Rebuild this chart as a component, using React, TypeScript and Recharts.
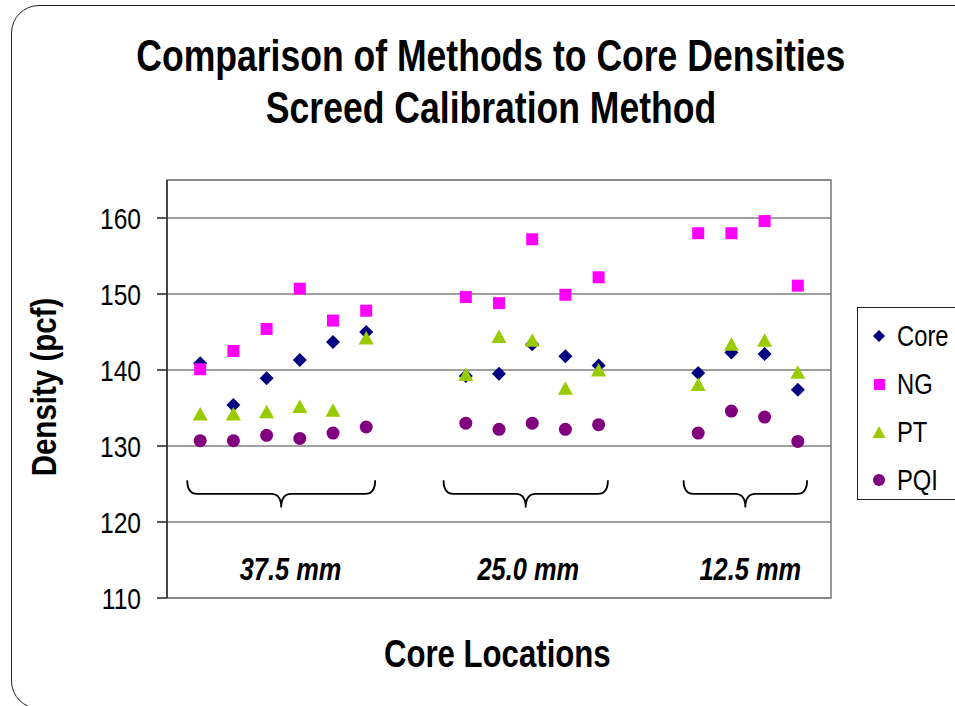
import React from 'react';
import { ScatterChart, Scatter, XAxis, YAxis, CartesianGrid, ReferenceArea, ReferenceDot } from 'recharts';

const F = '"Liberation Sans", Arial, sans-serif';
const NARROW = 0.82;

// Core position index along the horizontal axis
const corePositions = [1, 2, 3, 4, 5, 6, 9, 10, 11, 12, 13, 16, 17, 18, 19];
const coreValues = [140.9, 135.4, 138.9, 141.3, 143.7, 145.0, 139.2, 139.5, 143.4, 141.8, 140.6, 139.6, 142.3, 142.1, 137.4];
const ngValues = [140.1, 142.5, 145.4, 150.7, 146.5, 147.8, 149.6, 148.8, 157.2, 149.9, 152.2, 158.0, 158.0, 159.6, 151.1];
const ptValues = [134.2, 134.2, 134.5, 135.2, 134.7, 144.2, 139.4, 144.4, 143.9, 137.6, 140.0, 138.1, 143.4, 143.9, 139.7];
const pqiValues = [130.7, 130.7, 131.4, 131.0, 131.7, 132.5, 133.0, 132.2, 133.0, 132.2, 132.8, 131.7, 134.6, 133.8, 130.6];

const yTicks = [110, 120, 130, 140, 150, 160];

// Group annotations (brace extents and label anchor in data units)
const groupLabels = ['37.5 mm', '25.0 mm', '12.5 mm'];
const braceStart = [0.61, 8.33, 15.56];
const braceEnd = [6.27, 13.28, 19.28];
const labelCenter = [3.72, 10.88, 17.57];

const toRows = (vals: number[]) => vals.map((v, i) => ({ x: corePositions[i], y: v }));
const coreData = toRows(coreValues);
const ngData = toRows(ngValues);
const ptData = toRows(ptValues);
const pqiData = toRows(pqiValues);

const COLORS = { core: '#000080', ng: '#FF00FF', pt: '#99CC00', pqi: '#800080' };

const NText = ({ x, y, anchor = 'start', size, bold = false, italic = false, rotate = 0, children }: any) => (
  <text
    transform={`translate(${x} ${y})${rotate ? ` rotate(${rotate})` : ''} scale(${NARROW} 1)`}
    textAnchor={anchor}
    fontSize={size}
    fontWeight={bold ? 'bold' : 'normal'}
    fontStyle={italic ? 'italic' : 'normal'}
    fontFamily={F}
    fill="#000"
  >
    {children}
  </text>
);

const Diamond = (p: any) => (
  <path d={`M${p.cx},${p.cy - 7}L${p.cx + 7},${p.cy}L${p.cx},${p.cy + 7}L${p.cx - 7},${p.cy}Z`} fill={COLORS.core} />
);
const Square = (p: any) => <rect x={p.cx - 6} y={p.cy - 6} width={12} height={12} fill={COLORS.ng} />;
const Tri = (p: any) => (
  <path d={`M${p.cx},${p.cy - 7}L${p.cx + 7.5},${p.cy + 6.5}L${p.cx - 7.5},${p.cy + 6.5}Z`} fill={COLORS.pt} />
);
const Dot = (p: any) => <circle cx={p.cx} cy={p.cy} r={6.5} fill={COLORS.pqi} />;

const Brace = (p: any) => {
  const x0 = p.x, x1 = p.x + p.width, y0 = p.y, yb = p.y + p.height, ym = p.y + p.height / 2;
  const cx = (x0 + x1) / 2, r = 10;
  const d = `M${x0},${y0} Q${x0},${ym} ${x0 + r},${ym} L${cx - r},${ym} Q${cx},${ym} ${cx},${yb} Q${cx},${ym} ${cx + r},${ym} L${x1 - r},${ym} Q${x1},${ym} ${x1},${y0}`;
  return <path d={d} fill="none" stroke="#000" strokeWidth={1.8} />;
};

const YTick = (p: any) => (
  <NText x={p.x} y={p.y + 10.5} anchor="end" size={30}>
    {p.payload.value}
  </NText>
);

const legendItems = [
  { name: 'Core', shape: 'diamond', color: COLORS.core },
  { name: 'NG', shape: 'square', color: COLORS.ng },
  { name: 'PT', shape: 'triangle', color: COLORS.pt },
  { name: 'PQI', shape: 'circle', color: COLORS.pqi },
];

const LegendIcon = ({ shape, color }: { shape: string; color: string }) => (
  <svg width={16} height={16} style={{ display: 'block' }}>
    {shape === 'diamond' && <path d="M8,2L14,8L8,14L2,8Z" fill={color} />}
    {shape === 'square' && <rect x={3} y={3} width={11} height={11} fill={color} />}
    {shape === 'triangle' && <path d="M8,2L14.5,14L1.5,14Z" fill={color} />}
    {shape === 'circle' && <circle cx={8} cy={8} r={6} fill={color} />}
  </svg>
);

const narrowSpan: React.CSSProperties = { display: 'inline-block', transform: `scaleX(${NARROW})`, whiteSpace: 'nowrap' };
const titleSpan: React.CSSProperties = { display: 'inline-block', transform: 'scaleX(0.79)', whiteSpace: 'nowrap' };

export default function App() {
  return (
    <div style={{ position: 'absolute', left: 0, top: 0, width: 955, height: 706, overflow: 'hidden', background: '#fff', fontFamily: F }}>
      <div style={{ position: 'absolute', left: 11, top: 5, width: 1000, height: 702, border: '1.6px solid #222', borderRadius: 28 }} />
      <div style={{ position: 'absolute', left: 0, top: 30, width: 982, textAlign: 'center', fontSize: 45, fontWeight: 'bold', lineHeight: '52px', color: '#000' }}>
        <div><span style={titleSpan}>Comparison of Methods to Core Densities</span></div>
        <div><span style={titleSpan}>Screed Calibration Method</span></div>
      </div>
      <div style={{ position: 'absolute', left: 0, top: 0 }}>
        <ScatterChart width={955} height={706} margin={{ top: 180, right: 124, bottom: 108, left: 87 }}>
          <CartesianGrid horizontal vertical={false} stroke="#808080" strokeWidth={1.6} />
          <XAxis type="number" dataKey="x" domain={[0, 20]} hide />
          <YAxis
            type="number"
            dataKey="y"
            domain={[110, 165]}
            ticks={yTicks}
            width={80}
            tickSize={10}
            tickMargin={16}
            interval={0}
            axisLine={{ stroke: '#333', strokeWidth: 1.6 }}
            tickLine={{ stroke: '#333', strokeWidth: 1.6 }}
            tick={YTick}
            label={{
              content: (lp: any) => {
                const vb = lp.viewBox || { x: 87, y: 180, height: 418 };
                const cx = vb.x - 31;
                const cy = vb.y + vb.height / 2 - 2;
                return (
                  <NText x={cx} y={cy} rotate={-90} anchor="middle" size={36} bold>
                    Density (pcf)
                  </NText>
                );
              },
            }}
          />
          <ReferenceArea x1={0} x2={20} y1={110} y2={165} fill="none" stroke="#808080" strokeWidth={1.6} ifOverflow="visible" />
          {groupLabels.map((g, i) => (
            <ReferenceArea key={'b' + g} x1={braceStart[i]} x2={braceEnd[i]} y1={121.9} y2={125.5} shape={Brace} ifOverflow="visible" />
          ))}
          {groupLabels.map((g, i) => (
            <ReferenceDot
              key={'l' + g}
              x={labelCenter[i]}
              y={112.4}
              r={0}
              ifOverflow="visible"
              shape={(p: any) => (
                <NText x={p.cx} y={p.cy} anchor="middle" size={31} bold italic>
                  {g}
                </NText>
              )}
            />
          ))}
          <Scatter name="Core" data={coreData} shape={Diamond} isAnimationActive={false} />
          <Scatter name="NG" data={ngData} shape={Square} isAnimationActive={false} />
          <Scatter name="PT" data={ptData} shape={Tri} isAnimationActive={false} />
          <Scatter name="PQI" data={pqiData} shape={Dot} isAnimationActive={false} />
        </ScatterChart>
      </div>
      <div style={{ position: 'absolute', left: 0, top: 633, width: 995, textAlign: 'center', fontSize: 38, fontWeight: 'bold', color: '#000' }}>
        <span style={narrowSpan}>Core Locations</span>
      </div>
      <div style={{ position: 'absolute', left: 857, top: 307, width: 120, height: 191, border: '1.5px solid #222', background: '#fff' }}>
        {legendItems.map((it, i) => (
          <div key={it.name} style={{ position: 'absolute', left: 13, top: 11 + i * 48, height: 34, display: 'flex', alignItems: 'center' }}>
            <LegendIcon shape={it.shape} color={it.color} />
            <span style={{ marginLeft: 10, fontSize: 29, lineHeight: '34px', color: '#000', display: 'inline-block', transform: `scaleX(${NARROW})`, transformOrigin: 'left center' }}>{it.name}</span>
          </div>
        ))}
      </div>
    </div>
  );
}
